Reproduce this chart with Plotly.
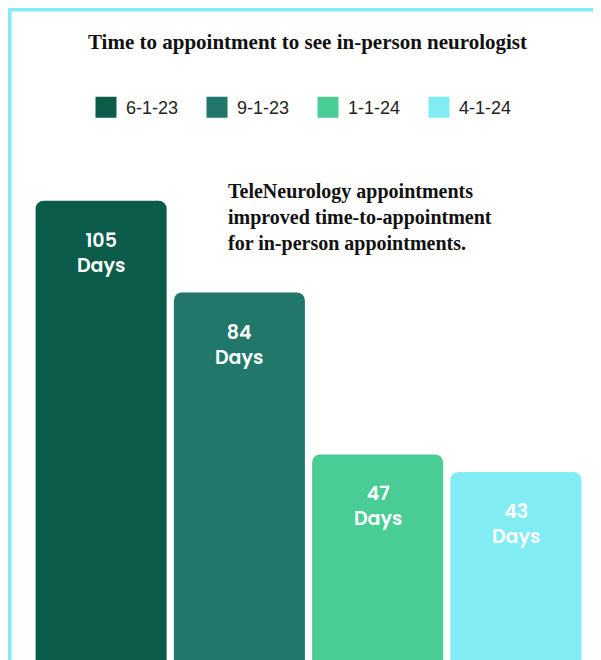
import plotly.graph_objects as go

# ---- data ----
categories = ["6-1-23", "9-1-23", "1-1-24", "4-1-24"]
days = [105, 84, 47, 43]
label_unit = "Days"
colors = ["#0B5C4A", "#21786A", "#4ACC95", "#82ECF5"]
title_text = "Time to appointment to see in-person neurologist"
note_lines = ["TeleNeurology appointments",
              "improved time-to-appointment",
              "for in-person appointments."]

W, H = 601, 660
OFF = 8  # page body margin offset
ML, MR, MT, MB = 24, 24, 127, 8
PW, PH = W - ML - MR, H - MT - MB


def px_x(px):
    return (px - OFF - ML) / PW


def px_y(py):
    return (H - MB - (py - OFF)) / PH


fig = go.Figure()

for cat, val, col in zip(categories, days, colors):
    fig.add_trace(go.Bar(
        x=[cat], y=[val], name=cat, marker=dict(color=col, line=dict(width=0)),
        width=0.948, showlegend=False, hoverinfo="skip",
    ))

# legend entries (square swatches)
for cat, col in zip(categories, colors):
    fig.add_trace(go.Scatter(
        x=[None], y=[None], mode="markers", name=cat,
        marker=dict(symbol="square", size=16, color=col, line=dict(color=col, width=6)),
        showlegend=True, hoverinfo="skip",
    ))

annotations = []
for cat, val in zip(categories, days):
    annotations.append(dict(
        x=cat, y=val, xref="x", yref="y", text=f"{val}<br>{label_unit}",
        showarrow=False, yanchor="top", xanchor="center", yshift=-24,
        font=dict(family="Poppins, Inter, sans-serif", size=19, color="white", weight=600),
    ))

annotations.append(dict(
    x=px_x(226), y=px_y(217), xref="paper", yref="paper",
    text="<br>".join(note_lines), showarrow=False, align="left",
    xanchor="left", yanchor="middle",
    font=dict(family="Liberation Serif, serif", size=20, color="#111111", weight="bold"),
))

border = dict(color="#82ECF5", width=3.6)
fig.update_layout(
    width=W, height=H,
    margin=dict(l=ML, r=MR, t=MT, b=MB, pad=0),
    paper_bgcolor="white", plot_bgcolor="white",
    barmode="overlay", barcornerradius=8,
    title=dict(text=title_text, x=(307.5 - OFF) / W, xanchor="center",
               y=1 - (42 - OFF) / H, yanchor="middle",
               xref="container", yref="container",
               font=dict(family="Liberation Serif, serif", size=21, color="#111111", weight="bold")),
    legend=dict(orientation="h", x=px_x(86), y=px_y(107.5), xanchor="left", yanchor="middle",
                font=dict(family="Liberation Sans, Arial, sans-serif", size=18, color="#222222"),
                entrywidth=66, itemclick=False, itemdoubleclick=False),
    xaxis=dict(type="category", range=[-0.5, 3.5], visible=False, fixedrange=True),
    yaxis=dict(range=[0, 120], visible=False, fixedrange=True),
    annotations=annotations,
    shapes=[
        dict(type="line", xref="paper", yref="paper",
             x0=px_x(9.8), x1=px_x(620), y0=px_y(9.8), y1=px_y(9.8), line=border, layer="below"),
        dict(type="line", xref="paper", yref="paper",
             x0=px_x(9.8), x1=px_x(9.8), y0=px_y(8), y1=px_y(680), line=border, layer="below"),
    ],
    showlegend=True,
)

fig.write_html("out.html")
